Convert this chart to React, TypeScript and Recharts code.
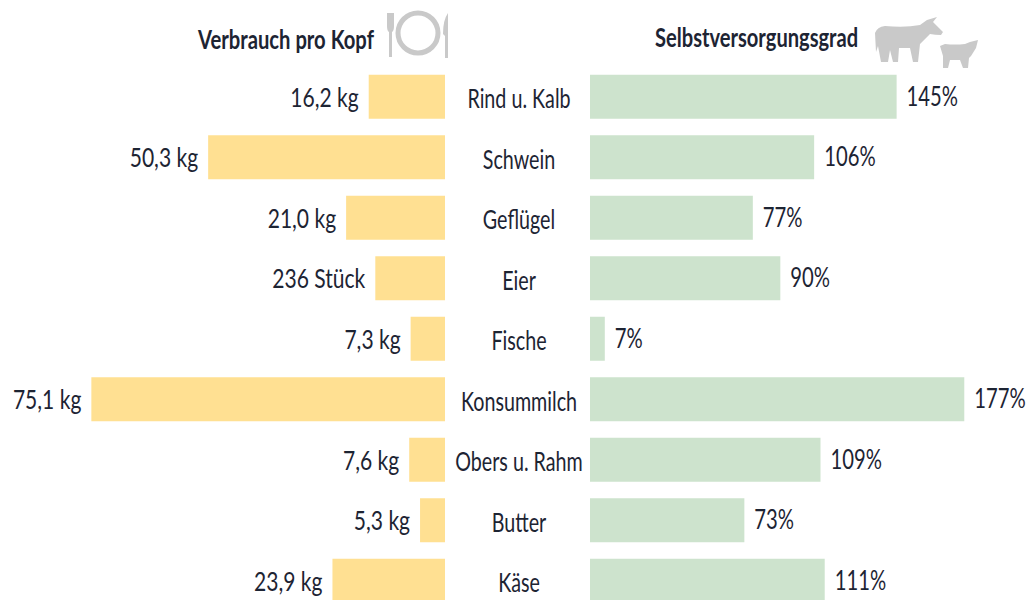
import React from "react";
import { BarChart, Bar, XAxis, YAxis, LabelList } from "recharts";

const categories = ["Rind u. Kalb", "Schwein", "Geflügel", "Eier", "Fische", "Konsummilch", "Obers u. Rahm", "Butter", "Käse"];
// bar lengths on the left, in kg (eggs have no kg label, length)
const consumption = [16.2, 50.3, 21.0, 14.8, 7.3, 75.1, 7.6, 5.3, 23.9];
const consumptionLabels = ["16,2 kg", "50,3 kg", "21,0 kg", "236 Stück", "7,3 kg", "75,1 kg", "7,6 kg", "5,3 kg", "23,9 kg"];
const selfSufficiency = [145, 106, 77, 90, 7, 177, 109, 73, 111];
const selfSufficiencyLabels = ["145%", "106%", "77%", "90%", "7%", "177%", "109%", "73%", "111%"];

const leftData = categories.map((name, i) => ({ name, value: consumption[i], label: consumptionLabels[i] }));
const rightData = categories.map((name, i) => ({ name, value: selfSufficiency[i], label: selfSufficiencyLabels[i] }));

const FONT = "Lato, sans-serif";
const TEXT = "#1d2433";
const ICON = "#c9c9c9";

// no condensed font is installed, so normal text gets squeezed horizontally
const NarrowText = ({ x, y, anchor, bold, size = 27, squeeze = 0.73, children }: any) => (
  <text
    transform={`translate(${x} ${y}) scale(${squeeze} 1)`}
    textAnchor={anchor}
    fontFamily={FONT}
    fontSize={size}
    fontWeight={bold ? "bold" : "normal"}
    fill={TEXT}
  >
    {children}
  </text>
);

const CategoryTick = (props: any) => {
  const { x, y, payload } = props;
  return (
    <NarrowText x={x - 63} y={y + 11} anchor="middle">
      {payload.value}
    </NarrowText>
  );
};

const LeftLabel = (props: any) => {
  const { x, y, width, height, value } = props;
  return (
    <NarrowText x={Math.min(x, x + width) - 10} y={y + height / 2 + 10} anchor="end" squeeze={0.78}>
      {value}
    </NarrowText>
  );
};

const RightLabel = (props: any) => {
  const { x, y, width, height, value } = props;
  return (
    <NarrowText x={x + width + 10} y={y + height / 2 + 9} anchor="start" squeeze={0.75}>
      {value}
    </NarrowText>
  );
};

const Header = () => (
  <svg width={1029} height={70} style={{ position: "absolute", left: 0, top: 0 }}>
    <NarrowText x={198} y={49} anchor="start" bold size={26} squeeze={0.778}>
      Verbrauch pro Kopf
    </NarrowText>
    <NarrowText x={655} y={47} anchor="start" bold size={26} squeeze={0.774}>
      Selbstversorgungsgrad
    </NarrowText>
    {/* plate and cutlery */}
    <circle cx={418} cy={33} r={20} fill="none" stroke={ICON} strokeWidth={5} />
    <path d="M387 13 L387 26 Q387 31 389 32 L389 57 L392 57 L392 32 Q394 31 394 26 L394 13 Z" fill={ICON} />
    <path d="M448 13 Q443 20 443 34 L445 36 L445 58 L448 58 Z" fill={ICON} />
    {/* cow */}
    <path
      d="M875 33 Q877 27 885 26 Q905 28 920 25 L927 20 L937 17 L933 22 L943 32 L941 35 Q935 35 930 34 L920 44 L918 62 L913 62 L910 48 L899 48 L898 62 L893 62 L890 50 L888 62 L881 62 L878 46 L876 52 Z"
      fill={ICON}
    />
    {/* pig */}
    <path
      d="M940 46 L945 44 Q955 45 965 44 L970 42 L978 40 L976 48 L971 56 L969 58 L968 68 L963 68 L960 60 L950 60 L948 68 L943 68 L943 56 Z"
      fill={ICON}
    />
  </svg>
);

export default function App() {
  return (
    <div style={{ position: "fixed", left: 0, top: 0, width: 1029, height: 600, overflow: "hidden", background: "#fff" }}>
      <Header />
      <div style={{ position: "absolute", left: 0, top: 0 }}>
        <BarChart
          width={445}
          height={620}
          data={leftData}
          layout="vertical"
          margin={{ top: 66.75, right: 0, bottom: 8.75, left: 0 }}
          barCategoryGap={0}
        >
          <XAxis type="number" hide reversed domain={[0, 94.5]} />
          <YAxis type="category" dataKey="name" hide />
          <Bar dataKey="value" fill="#ffe092" barSize={44} isAnimationActive={false}>
            <LabelList dataKey="label" content={<LeftLabel />} />
          </Bar>
        </BarChart>
      </div>
      <div style={{ position: "absolute", left: 445, top: 0 }}>
        <BarChart
          width={584}
          height={620}
          data={rightData}
          layout="vertical"
          margin={{ top: 66.75, right: 0, bottom: 8.75, left: 0 }}
          barCategoryGap={0}
        >
          <XAxis type="number" hide domain={[0, 207.6]} />
          <YAxis type="category" dataKey="name" width={145} axisLine={false} tickLine={false} interval={0} tick={<CategoryTick />} />
          <Bar dataKey="value" fill="#cde3cd" barSize={44} isAnimationActive={false}>
            <LabelList dataKey="label" content={<RightLabel />} />
          </Bar>
        </BarChart>
      </div>
    </div>
  );
}
